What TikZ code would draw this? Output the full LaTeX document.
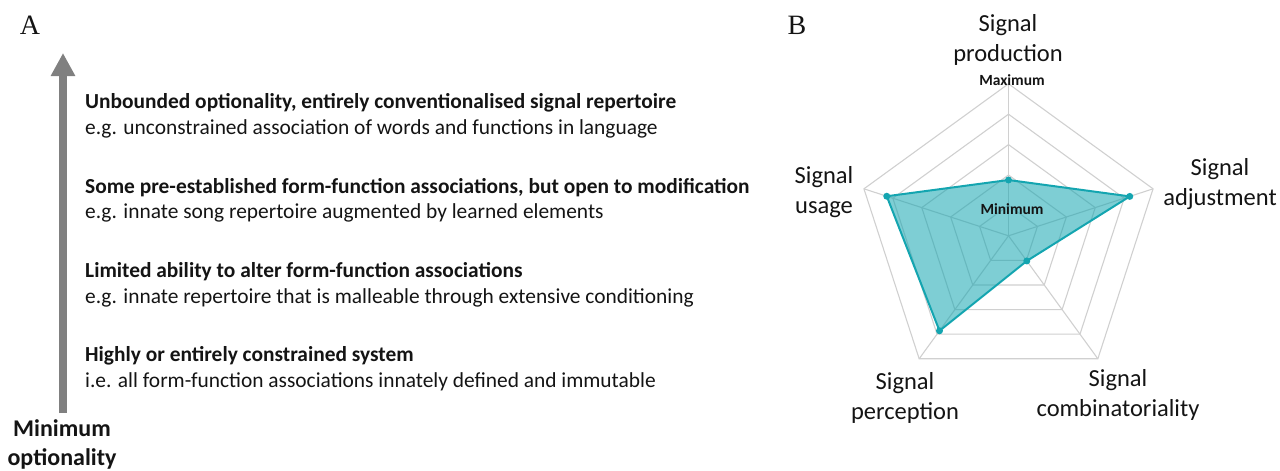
\documentclass[tikz,border=0pt]{standalone}
\usepackage{fontspec}
\setmainfont{Carlito}
\newfontfamily\panelfont{Liberation Serif}
\usetikzlibrary{arrows.meta}
\definecolor{arrowgray}{RGB}{128,128,128}
\definecolor{tealline}{RGB}{20,165,176}
\definecolor{gridgray}{RGB}{208,208,208}
\definecolor{txt}{RGB}{20,20,20}
\tikzset{
  panel/.style={font=\panelfont\fontsize{28}{30}\selectfont, text=txt, inner sep=0},
  headline/.style={anchor=base west, font=\bfseries\fontsize{21.4}{24}\selectfont, text=txt, inner sep=0},
  subline/.style={anchor=base west, font=\fontsize{21.4}{24}\selectfont, text=txt, inner sep=0},
  axislabel/.style={align=center, font=\fontsize{24.5}{29.5}\selectfont, text=txt, inner sep=0},
  scalelabel/.style={font=\bfseries\fontsize{15.5}{17}\selectfont, text=txt, inner sep=0},
  gridline/.style={draw=gridgray, line width=1.1pt},
  datadot/.style={circle, fill=tealline, inner sep=0, minimum size=7pt}
}
\begin{document}
\begin{tikzpicture}[x=1pt, y=-1pt]
\useasboundingbox (0,0) rectangle (1280,471);
% Panel A
\node[panel] (labA) at (30,25) {A};
\coordinate (abot) at (63,413);
\coordinate (atop) at (63,53);
\draw[arrowgray, line width=8pt, -{Triangle[width=23pt,length=23pt]}] (abot) -- (atop);
\node[align=center, font=\bfseries\fontsize{24}{29}\selectfont, text=txt, inner sep=0] (minopt) at (62,444) {Minimum\\optionality};
\node[headline] (h1) at (85,108) {Unbounded optionality, entirely conventionalised signal repertoire};
\node[subline] (s1) at (85,134) {e.g. unconstrained association of words and functions in language};
\node[headline] (h2) at (85,193) {Some pre-established form-function associations, but open to modification};
\node[subline] (s2) at (85,218) {e.g. innate song repertoire augmented by learned elements};
\node[headline] (h3) at (85,277) {Limited ability to alter form-function associations};
\node[subline] (s3) at (85,303) {e.g. innate repertoire that is malleable through extensive conditioning};
\node[headline] (h4) at (85,361) {Highly or entirely constrained system};
\node[subline] (s4) at (85,387) {i.e. all form-function associations innately defined and immutable};
% Panel B
\node[panel] (labB) at (797,25) {B};
\begin{scope}[shift={(1008.5,235.8)}]
  \coordinate (ctr) at (0,0);
  \foreach \k in {1,...,5} {
    \draw[gridline] (90:{\k*30.4pt}) -- (18:{\k*30.4pt}) -- (-54:{\k*30.4pt}) -- (-126:{\k*30.4pt}) -- (162:{\k*30.4pt}) -- cycle;
  }
  \foreach \a in {90,18,-54,-126,162} {
    \draw[gridline] (ctr) -- (\a:152pt);
  }
  \coordinate (dprod) at (90:55.8pt);
  \coordinate (dadj) at (18:127.5pt);
  \coordinate (dcomb) at (-54:31.1pt);
  \coordinate (dperc) at (-126:117.4pt);
  \coordinate (dusage) at (162:128pt);
  \fill[tealline, fill opacity=0.55] (dprod) -- (dadj) -- (dcomb) -- (dperc) -- (dusage) -- cycle;
  \draw[tealline, line width=2pt, line join=round] (dprod) -- (dadj) -- (dcomb) -- (dperc) -- (dusage) -- cycle;
  \foreach \p in {dprod,dadj,dcomb,dperc,dusage} {
    \node[datadot] at (\p) {};
  }
\end{scope}
\node[scalelabel] (maxlab) at (1012,80) {Maximum};
\node[scalelabel] (minlab) at (1012,209) {Minimum};
\node[axislabel] (lprod) at (1008,40) {Signal\\production};
\node[axislabel] (lusage) at (824,192) {Signal\\usage};
\node[axislabel] (ladj) at (1220,184) {Signal\\adjustment};
\node[axislabel] (lperc) at (905,398) {Signal\\perception};
\node[axislabel] (lcomb) at (1118,395) {Signal\\combinatoriality};
\end{tikzpicture}
\end{document}
